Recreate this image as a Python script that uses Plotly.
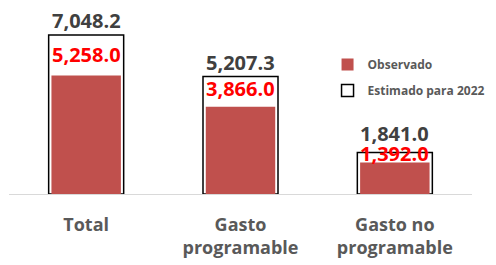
import plotly.graph_objects as go

categories = ["Total", "Gasto programable", "Gasto no programable"]
tick_labels = ["Total", "Gasto<br>programable", "Gasto no<br>programable"]
observado = [5258.0, 3866.0, 1392.0]
estimado = [7048.2, 5207.3, 1841.0]

# label offsets (px) – styling only
est_shift = [-1, -1, 3]
obs_shift = [5, 3, -6]

FONT = "Open Sans"
fig = go.Figure()
fig.add_trace(go.Bar(
    x=categories, y=estimado, name="Estimado para 2022",
    marker=dict(color="white", line=dict(color="black", width=1.5)),
    width=0.486, legendrank=2, legendgroup="b", hoverinfo="skip",
))
fig.add_trace(go.Bar(
    x=categories, y=observado, name="Observado",
    marker=dict(color="#C0504D", line=dict(width=0)),
    width=0.45, legendrank=1, legendgroup="a", hoverinfo="skip",
))

for c, v, s in zip(categories, estimado, est_shift):
    fig.add_annotation(x=c, y=v, text=f"{v:,.1f}", showarrow=False,
                       yanchor="bottom", yshift=s,
                       font=dict(family=FONT, size=20, color="#404040", weight="bold"))
for c, v, s in zip(categories, observado, obs_shift):
    fig.add_annotation(x=c, y=v, text=f"{v:,.1f}", showarrow=False,
                       yanchor="bottom", yshift=s,
                       font=dict(family=FONT, size=20, color="#FF0000", weight="bold"))

fig.update_layout(
    width=488, height=257,
    margin=dict(l=1, r=24, t=0, b=71, autoexpand=False),
    barmode="overlay",
    plot_bgcolor="white", paper_bgcolor="white",
    showlegend=True,
    legend=dict(x=0.688, y=0.774, xanchor="left", yanchor="top",
                traceorder="grouped", tracegroupgap=7, itemwidth=30,
                font=dict(family=FONT, size=12, color="#595959", weight="bold"),
                bgcolor="rgba(0,0,0,0)"),
    xaxis=dict(tickmode="array", tickvals=categories, ticktext=tick_labels,
               showline=True, linecolor="#D9D9D9", linewidth=1,
               ticks="", ticklabelstandoff=14, automargin=False,
               tickfont=dict(family=FONT, size=18, color="#595959", weight="bold")),
    yaxis=dict(range=[0, 8245], visible=False, showgrid=False),
)
fig.write_html("out.html")
